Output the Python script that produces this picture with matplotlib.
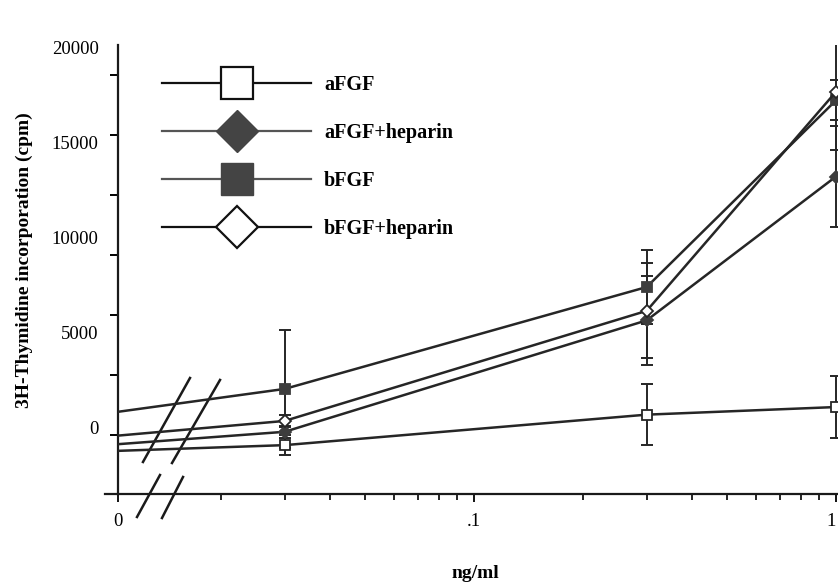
import matplotlib
matplotlib.use("Agg")
import matplotlib.pyplot as plt
from matplotlib.lines import Line2D
import matplotlib.ticker as mt
import numpy as np

plt.rcParams['font.family'] = ['Liberation Serif', 'DejaVu Serif']

# ---- data ----
doses = [0, 0.03, 0.3, 1]              # ng/ml ; 0 drawn at the axis break
afgf = [-1200, -900, 700, 1100]
afgf_err = [0, 520, 1600, 1650]
afgf_hep = [-850, -200, 5650, 13200]
afgf_hep_err = [0, 300, 2350, 2650]
bfgf = [850, 2050, 7400, 17200]
bfgf_err = [0, 3100, 1950, 1050]
bfgf_hep = [-400, 370, 6150, 17650]
bfgf_hep_err = [0, 300, 2500, 3050]

series_names = ["aFGF", "aFGF+heparin", "bFGF", "bFGF+heparin"]
y_tick_values = [0, 5000, 10000, 15000, 20000]
y_tick_labels = ["0", "5000", "10000", "15000", "20000"]
x_tick_labels = ["0", ".1", "1"]

# ---- layout ----
X_ZERO = 0.0104          # where the "0" dose sits on the log axis
XMAX = 1.013
YMIN, YMAX = -3465, 20105

fig = plt.figure(figsize=(8.38, 5.83), dpi=100)
ax = fig.add_axes([118/838, 1-494/583, 720/838, 449/583])
ax.set_xscale('log')
ax.set_xlim(X_ZERO, XMAX)
ax.set_ylim(YMIN, YMAX)

px = [X_ZERO if d == 0 else d for d in doses]

LC = '#262626'
FILL = '#3d3d3d'
styles = [
    dict(marker='s', mfc='white', mec=LC, ms=7),
    dict(marker='D', mfc=FILL, mec=FILL, ms=6.5),
    dict(marker='s', mfc=FILL, mec=FILL, ms=7),
    dict(marker='D', mfc='white', mec=LC, ms=6.5),
]
vals = [afgf, afgf_hep, bfgf, bfgf_hep]
errs = [afgf_err, afgf_hep_err, bfgf_err, bfgf_hep_err]

for v, e, st in zip(vals, errs, styles):
    ax.errorbar(px[1:], v[1:], yerr=e[1:], fmt='none', ecolor=LC,
                elinewidth=1.4, capsize=4.3, capthick=1.4, zorder=2)
    ax.plot(px, v, color=LC, lw=1.8, markevery=[1, 2, 3], mew=1.3,
            zorder=3, **st)

# ---- axes styling ----
for s in ['top', 'right']:
    ax.spines[s].set_visible(False)
ax.spines['left'].set_linewidth(1.6)
ax.spines['bottom'].set_linewidth(1.6)
ax.spines['left'].set_color('#1a1a1a')
ax.spines['bottom'].set_color('#1a1a1a')
# small extension of x axis to the left of the y axis
ax.plot([-0.018, 0], [0, 0], transform=ax.transAxes, color='#1a1a1a',
        lw=1.6, clip_on=False)

ax.yaxis.set_major_locator(mt.FixedLocator(y_tick_values))
ax.yaxis.set_major_formatter(mt.FixedFormatter(y_tick_labels))
ax.yaxis.set_minor_locator(mt.FixedLocator(np.arange(-367, 20000, 3150)))
ax.tick_params(axis='y', which='major', length=0, pad=14, labelsize=13.5)
ax.tick_params(axis='y', which='minor', length=6, width=1.4, direction='out')

ax.xaxis.set_major_locator(mt.FixedLocator([X_ZERO, 0.1, 1]))
ax.xaxis.set_major_formatter(mt.FixedFormatter(x_tick_labels))
ax.xaxis.set_minor_locator(mt.LogLocator(base=10, subs=np.arange(2, 10)))
ax.xaxis.set_minor_formatter(mt.NullFormatter())
ax.tick_params(axis='x', which='major', length=6, width=1.3, pad=8,
               labelsize=13.5, direction='out')
ax.tick_params(axis='x', which='minor', length=4, width=1.2, direction='out')
fig.canvas.draw()
xl = ax.get_xticklabels()
xl[-1].set_horizontalalignment('right')
xl[-1].set_x(1.0)

ax.set_ylabel("3H-Thymidine incorporation (cpm)", fontsize=14,
              fontweight='bold')
ax.yaxis.set_label_coords(-0.118, 0.521)
ax.set_xlabel("ng/ml", fontsize=14, fontweight='bold')
ax.xaxis.set_label_coords(0.496, -0.158)

# ---- axis break marks ----
brk = dict(transform=ax.transAxes, color='#1a1a1a', lw=1.8, clip_on=False)
ax.plot([0.0347, 0.1000], [0.0713, 0.2584], **brk)
ax.plot([0.0750, 0.1417], [0.0690, 0.2540], **brk)
ax.plot([0.0264, 0.0583], [-0.0512, 0.0423], **brk)
ax.plot([0.0611, 0.0903], [-0.0535, 0.0379], **brk)

# ---- legend ----
handles = [
    Line2D([], [], color='#111111', lw=1.6, marker='s', ms=23.5,
           mfc='white', mec='#111111', mew=1.6),
    Line2D([], [], color='#555555', lw=1.6, marker='D', ms=21,
           mfc='#444444', mec='#444444', mew=1.0),
    Line2D([], [], color='#555555', lw=1.6, marker='s', ms=23.5,
           mfc='#444444', mec='#444444', mew=1.0),
    Line2D([], [], color='#111111', lw=1.6, marker='D', ms=21,
           mfc='white', mec='#111111', mew=1.6),
]
leg = ax.legend(handles, series_names, loc='upper left',
                bbox_to_anchor=((162-118)/720, (494-75)/449),
                frameon=False, borderpad=0, borderaxespad=0,
                handlelength=7.4, handletextpad=0.65, labelspacing=1.39,
                prop=dict(family=['Liberation Serif'], weight='bold', size=14.5))

fig.savefig("out.png", dpi=100)
